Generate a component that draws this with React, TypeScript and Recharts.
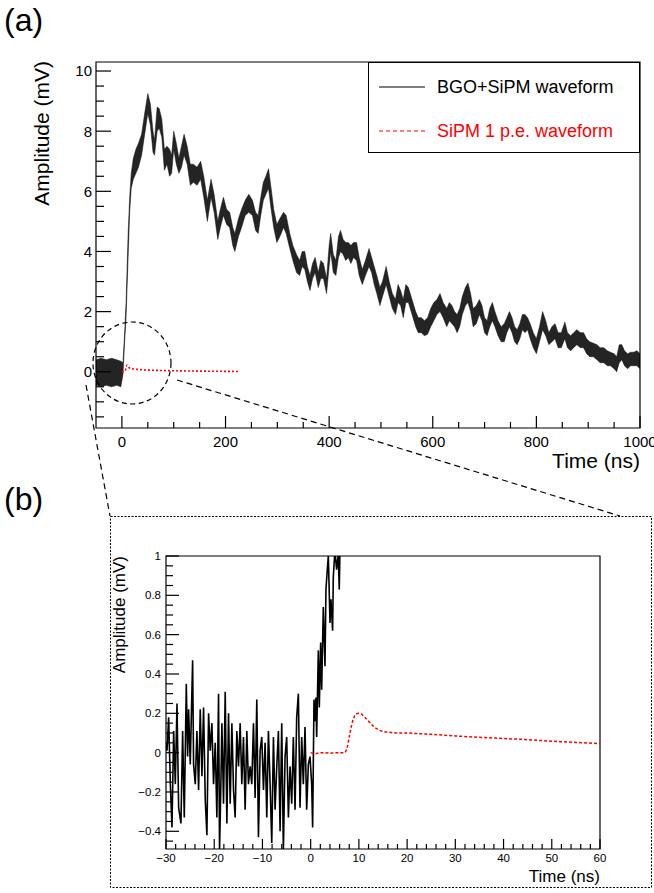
import React from "react";
import { ComposedChart, Line, Area, XAxis, YAxis, ReferenceArea } from "recharts";

const FONT = "'Liberation Sans', Arial, Helvetica, sans-serif";

// (a) BGO+SiPM waveform, dotted band: [time ns, low mV, high mV]
const bgoBandA: [number, number, number][] = [
  [-50, -0.45, 0.4], [-40, -0.5, 0.45], [-30, -0.45, 0.4], [-20, -0.5, 0.45], [-10, -0.45, 0.4],
  [-2, -0.5, 0.35], [2, -0.1, 0.3], [5, 0.9, 1.2], [8, 1.8, 2.3], [12, 3.8, 4.6],
  [15, 5.3, 5.8], [18, 6.1, 6.6], [22, 6.4, 7.1], [27, 6.6, 7.4], [32, 6.8, 7.6],
  [38, 7.2, 7.9], [44, 7.9, 8.6], [50, 8.6, 9.25], [55, 8.2, 8.9], [60, 7.3, 8.0],
  [63, 7.2, 7.7], [68, 8.0, 8.8], [72, 8.1, 8.75], [77, 7.8, 8.4], [82, 6.7, 7.4],
  [87, 6.9, 7.5], [92, 6.5, 7.4], [96, 6.6, 7.2], [100, 7.4, 8.0], [105, 6.9, 7.6],
  [110, 6.6, 7.1], [115, 6.8, 7.5], [120, 7.2, 7.9], [126, 6.9, 7.5], [132, 6.2, 6.9],
  [138, 6.3, 6.9], [145, 6.2, 6.8], [152, 6.4, 7.0], [158, 5.8, 6.5], [165, 5.0, 5.7],
  [172, 5.8, 6.4], [178, 5.3, 5.9], [185, 4.4, 5.0], [190, 4.8, 5.4], [196, 5.2, 5.8],
  [202, 4.9, 5.4], [208, 4.8, 5.3], [214, 4.2, 4.8], [218, 4.0, 4.6], [225, 4.5, 5.1],
  [231, 4.8, 5.4], [238, 5.2, 5.7], [245, 5.3, 5.9], [252, 5.2, 5.7], [258, 4.7, 5.3],
  [263, 4.6, 5.2], [268, 5.2, 5.8], [273, 5.7, 6.3], [278, 5.9, 6.5], [283, 6.1, 6.75],
  [288, 5.4, 6.1], [293, 4.8, 5.4], [299, 4.3, 4.9], [305, 4.5, 5.1], [312, 4.8, 5.3],
  [317, 4.6, 5.2], [324, 4.1, 4.6], [330, 3.7, 4.2], [337, 3.3, 3.9], [343, 3.2, 3.7],
  [348, 3.5, 4.0], [353, 3.4, 4.0], [358, 3.0, 3.5], [363, 2.7, 3.2], [368, 3.1, 3.6],
  [373, 3.3, 3.8], [379, 2.8, 3.3], [384, 3.1, 3.7], [389, 3.1, 3.6], [395, 2.6, 3.1],
  [400, 3.5, 4.2], [403, 4.0, 4.6], [408, 3.3, 3.9], [413, 3.2, 3.7], [418, 3.8, 4.5],
  [422, 4.0, 4.7], [427, 3.9, 4.4], [432, 3.7, 4.3], [437, 3.8, 4.3], [442, 3.6, 4.2],
  [447, 3.8, 4.3], [453, 3.7, 4.3], [458, 3.2, 3.8], [464, 2.9, 3.4], [470, 3.2, 3.7],
  [477, 3.5, 4.1], [482, 3.3, 3.8], [487, 2.9, 3.5], [492, 2.6, 3.2], [498, 2.2, 2.8],
  [503, 2.5, 3.0], [510, 2.9, 3.5], [516, 2.5, 3.0], [522, 2.1, 2.6], [528, 1.9, 2.4],
  [533, 2.3, 2.9], [538, 2.2, 2.7], [543, 1.8, 2.4], [548, 2.3, 2.9], [553, 2.3, 2.8],
  [560, 1.9, 2.4], [567, 1.5, 2.0], [572, 1.3, 1.8], [578, 1.3, 1.8], [584, 1.2, 1.7],
  [590, 1.25, 1.8], [596, 1.5, 2.1], [602, 1.7, 2.3], [608, 1.9, 2.4], [614, 2.0, 2.6],
  [620, 1.8, 2.3], [627, 1.5, 2.1], [632, 1.7, 2.3], [637, 1.6, 2.2], [642, 1.5, 2.0],
  [647, 1.3, 1.9], [652, 1.5, 2.1], [657, 1.9, 2.5], [663, 2.2, 2.8], [668, 2.3, 2.95],
  [673, 2.0, 2.6], [678, 1.5, 2.1], [684, 1.6, 2.2], [690, 1.9, 2.4], [695, 1.7, 2.2],
  [700, 1.3, 1.8], [705, 1.2, 1.7], [710, 1.5, 2.1], [715, 1.7, 2.3], [720, 1.5, 2.0],
  [726, 1.2, 1.7], [732, 1.0, 1.5], [738, 1.0, 1.6], [743, 1.3, 1.8], [748, 1.5, 2.0],
  [753, 1.3, 1.8], [758, 1.0, 1.5], [763, 0.9, 1.4], [768, 1.1, 1.6], [773, 1.4, 1.9],
  [778, 1.3, 1.9], [783, 1.4, 1.8], [788, 1.1, 1.6], [794, 0.8, 1.3], [800, 0.6, 1.1],
  [806, 1.0, 1.5], [812, 1.4, 2.0], [818, 1.2, 1.7], [824, 0.9, 1.3], [830, 1.0, 1.5],
  [836, 1.1, 1.6], [842, 0.8, 1.3], [848, 0.8, 1.3], [855, 1.1, 1.65], [860, 0.8, 1.3],
  [866, 0.7, 1.2], [872, 0.8, 1.3], [878, 0.9, 1.4], [885, 0.8, 1.3], [891, 0.8, 1.3],
  [897, 0.6, 1.1], [903, 0.5, 1.0], [910, 0.5, 0.95], [917, 0.4, 0.9], [923, 0.3, 0.8],
  [930, 0.3, 0.8], [937, 0.2, 0.7], [943, 0.2, 0.65], [950, 0.1, 0.6], [955, 0.0, 0.5],
  [960, 0.3, 0.9], [965, 0.4, 0.9], [970, 0.2, 0.7], [976, 0.1, 0.6], [982, 0.2, 0.65],
  [988, 0.2, 0.65], [994, 0.2, 0.7], [1000, 0.1, 0.6],
];

// (a) SiPM 1 p.e. waveform: [time ns, mV]
const speA: [number, number][] = [
  [0, 0], [3, 0], [6, 0.02], [8, 0.12], [10, 0.22], [12, 0.18], [15, 0.12], [20, 0.1],
  [30, 0.08], [45, 0.06], [60, 0.05], [80, 0.04], [100, 0.035], [130, 0.025], [160, 0.02],
  [190, 0.015], [225, 0.01],
];

// (b) zoomed BGO+SiPM samples: [time ns, mV]
const bgoB: [number, number][] = [
  [-30, 0.05], [-29.79, 0.01], [-29.45, 0.18], [-29.1, -0.16], [-28.76, -0.38], [-28.41, 0.11],
  [-28.07, -0.16], [-27.72, 0.25], [-27.38, -0.28], [-26.9, -0.36], [-26.55, 0.11], [-26.21, -0.33],
  [-25.79, 0.35], [-25.52, -0.02], [-25.31, 0.22], [-24.97, -0.06], [-24.48, 0.47], [-24.28, -0.06],
  [-23.93, -0.16], [-23.59, 0.11], [-23.24, -0.19], [-22.9, 0.22], [-22.55, -0.12], [-22.21, 0.23],
  [-21.86, -0.24], [-21.52, -0.42], [-21.17, 0.2], [-20.83, 0.01], [-20.48, 0.15], [-20.14, -0.16],
  [-19.79, 0.05], [-19.45, -0.33], [-19.1, 0.3], [-18.9, -0.5], [-18.62, -0.16], [-18.41, 0.15],
  [-18.07, -0.26], [-17.72, 0.31], [-17.38, -0.36], [-17.03, 0.2], [-16.69, -0.26], [-16.34, 0.15],
  [-16.0, -0.19], [-15.66, -0.33], [-15.31, 0.11], [-14.97, -0.07], [-14.62, 0.15], [-14.28, -0.16],
  [-13.93, 0.08], [-13.59, -0.29], [-13.24, 0.11], [-12.9, -0.16], [-12.55, -0.07], [-12.21, -0.16],
  [-11.86, 0.15], [-11.52, -0.23], [-11.17, 0.27], [-10.83, -0.43], [-10.48, 0.01], [-10.14, 0.08],
  [-9.79, -0.19], [-9.45, 0.05], [-9.1, -0.33], [-8.76, 0.11], [-8.41, -0.16], [-8.07, -0.46],
  [-7.72, 0.08], [-7.38, -0.29], [-7.03, -0.07], [-6.69, 0.11], [-6.34, -0.4], [-6.0, 0.15],
  [-5.66, -0.5], [-5.31, -0.02], [-4.97, 0.08], [-4.62, -0.33], [-4.28, -0.07], [-3.93, -0.26],
  [-3.59, 0.08], [-3.24, -0.29], [-2.9, 0.18], [-2.55, 0.3], [-2.21, -0.28], [-1.86, 0.08],
  [-1.52, -0.16], [-1.17, 0.13], [-0.83, -0.29], [-0.48, -0.06], [-0.14, -0.02], [0.21, -0.16],
  [0.41, -0.38], [0.69, 0.27], [0.9, 0.16], [1.1, 0.28], [1.24, 0.08], [1.59, 0.52],
  [1.79, 0.23], [2.07, 0.56], [2.28, 0.32], [2.62, 0.74], [2.97, 0.44], [3.17, 0.83],
  [3.45, 0.93], [3.66, 1.0], [4.01, 0.66], [4.21, 0.78], [4.55, 0.62], [4.69, 0.89],
  [5.03, 1.03], [5.38, 0.93], [5.72, 1.01], [5.93, 0.83], [6.2, 1.2], [6.7, 1.6],
];

// (b) SiPM 1 p.e. waveform: [time ns, mV]
const speB: [number, number][] = [
  [0, 0.0], [1, -0.005], [2, 0.0], [3, 0.0], [4, -0.003], [5, 0.0], [6, 0.0], [7, 0.0],
  [7.5, 0.02], [8, 0.08], [8.5, 0.14], [9, 0.18], [9.5, 0.198], [10, 0.2], [10.5, 0.197],
  [11, 0.185], [12, 0.16], [13, 0.135], [14, 0.117], [15, 0.108], [16, 0.104], [17, 0.102],
  [18, 0.1], [20, 0.1], [22, 0.097], [25, 0.093], [30, 0.085], [35, 0.078], [40, 0.072],
  [45, 0.066], [50, 0.058], [55, 0.052], [60, 0.046],
];

const ticksXA = [0, 50, 100, 150, 200, 250, 300, 350, 400, 450, 500, 550, 600, 650, 700, 750, 800, 850, 900, 950, 1000];
const majorXA = [0, 200, 400, 600, 800, 1000];
const ticksYA = [-1.5, -1, -0.5, 0, 0.5, 1, 1.5, 2, 2.5, 3, 3.5, 4, 4.5, 5, 5.5, 6, 6.5, 7, 7.5, 8, 8.5, 9, 9.5, 10];
const majorYA = [0, 2, 4, 6, 8, 10];
const ticksXB = [-30, -28, -26, -24, -22, -20, -18, -16, -14, -12, -10, -8, -6, -4, -2, 0, 2, 4, 6, 8, 10, 12, 14, 16, 18, 20, 22, 24, 26, 28, 30, 32, 34, 36, 38, 40, 42, 44, 46, 48, 50, 52, 54, 56, 58, 60];
const majorXB = [-30, -20, -10, 0, 10, 20, 30, 40, 50, 60];
const ticksYB = [-0.45, -0.4, -0.35, -0.3, -0.25, -0.2, -0.15, -0.1, -0.05, 0, 0.05, 0.1, 0.15, 0.2, 0.25, 0.3, 0.35, 0.4, 0.45, 0.5, 0.55, 0.6, 0.65, 0.7, 0.75, 0.8, 0.85, 0.9, 0.95, 1];
const majorYB = [-0.4, -0.2, 0, 0.2, 0.4, 0.6, 0.8, 1];

const bandData = bgoBandA.map(([t, lo, hi]) => ({ t, band: [lo, hi] }));
const speAData = speA.map(([t, v]) => ({ t, v }));
const bgoBData = bgoB.map(([t, v]) => ({ t, v }));
const speBData = speB.map(([t, v]) => ({ t, v }));

const isMajor = (v: number, majors: number[]) => majors.some((m) => Math.abs(m - v) < 1e-6);
const fmt = (v: number) => (v < 0 ? "\u2212" + String(Math.abs(v)) : String(v));

function xTick(majors: number[], long: number, short: number, fs: number, dy: number) {
  return (p: any) => {
    const { x, y, payload } = p;
    const major = isMajor(payload.value, majors);
    return (
      <g>
        <line x1={x} x2={x} y1={y} y2={y - (major ? long : short)} stroke="#000" strokeWidth={1.2} />
        {major && (
          <text x={x} y={y + dy} textAnchor="middle" fontSize={fs} fontFamily={FONT} fill="#000">
            {fmt(payload.value)}
          </text>
        )}
      </g>
    );
  };
}

function yTick(majors: number[], long: number, short: number, fs: number, dx: number) {
  return (p: any) => {
    const { x, y, payload } = p;
    const major = isMajor(payload.value, majors);
    return (
      <g>
        <line x1={x} x2={x + (major ? long : short)} y1={y} y2={y} stroke="#000" strokeWidth={1.2} />
        {major && (
          <text x={x - dx} y={y + fs * 0.36} textAnchor="end" fontSize={fs} fontFamily={FONT} fill="#000">
            {fmt(payload.value)}
          </text>
        )}
      </g>
    );
  };
}

export default function App() {
  return (
    <div style={{ position: "absolute", left: 0, top: 0, width: 654, height: 893, background: "#fff", fontFamily: FONT }}>
      {/* panel (a) */}
      <div style={{ position: "absolute", left: 0, top: 0 }}>
        <ComposedChart width={654} height={470} margin={{ top: 62, right: 14, bottom: 12, left: 0 }}>
          <XAxis type="number" dataKey="t" domain={[-50, 1000]} allowDataOverflow ticks={ticksXA} interval={0}
            tickSize={0} tickMargin={0} tickLine={false} axisLine={false} height={30} tick={xTick(majorXA, 12, 6, 15, 19)} />
          <YAxis type="number" domain={[-1.87, 10.3]} allowDataOverflow ticks={ticksYA} interval={0}
            tickSize={0} tickMargin={0} tickLine={false} axisLine={false} width={96} tick={yTick(majorYA, 15, 8, 15, 4)} />
          <Area data={bandData} dataKey="band" type="linear" stroke="#111" strokeWidth={0.5} fill="#000"
            fillOpacity={0.86} dot={false} activeDot={false} isAnimationActive={false} />
          <Line data={speAData} dataKey="v" type="monotone" stroke="#ff0000" strokeWidth={1.6}
            strokeDasharray="2 2" dot={false} activeDot={false} isAnimationActive={false} />
          <ReferenceArea x1={-50} x2={1000} y1={-1.87} y2={10.3} fill="none" stroke="#000" strokeWidth={1.2} ifOverflow="visible" />
        </ComposedChart>
      </div>

      {/* panel (b) */}
      <div style={{ position: "absolute", left: 0, top: 520 }}>
        <ComposedChart width={654} height={370} margin={{ top: 36, right: 54, bottom: 16, left: 0 }}>
          <XAxis type="number" dataKey="t" domain={[-30, 60]} allowDataOverflow ticks={ticksXB} interval={0}
            tickSize={0} tickMargin={0} tickLine={false} axisLine={false} height={25} tick={xTick(majorXB, 10, 5, 11.5, 13)} />
          <YAxis type="number" domain={[-0.49, 1]} allowDataOverflow ticks={ticksYB} interval={0}
            tickSize={0} tickMargin={0} tickLine={false} axisLine={false} width={166} tick={yTick(majorYB, 13, 7, 11.5, 5)} />
          <Line data={bgoBData} dataKey="v" type="linear" stroke="#000" strokeWidth={1.6}
            dot={false} activeDot={false} isAnimationActive={false} />
          <Line data={speBData} dataKey="v" type="monotone" stroke="#ff0000" strokeWidth={1.5}
            strokeDasharray="3 2" dot={false} activeDot={false} isAnimationActive={false} />
          <ReferenceArea x1={-30} x2={60} y1={-0.49} y2={1} fill="none" stroke="#000" strokeWidth={1.2} ifOverflow="visible" />
        </ComposedChart>
      </div>

      {/* annotations */}
      <svg width={654} height={893} style={{ position: "absolute", left: 0, top: 0, pointerEvents: "none" }} fontFamily={FONT}>
        <text x={4} y={31} fontSize={32}>(a)</text>
        <text x={4} y={510} fontSize={32}>(b)</text>

        <text transform="translate(49,61) rotate(-90)" textAnchor="end" fontSize={21}>Amplitude (mV)</text>
        <text x={640} y={468} textAnchor="end" fontSize={21}>Time (ns)</text>

        <rect x={368.5} y={62.5} width={271} height={90} fill="#fff" stroke="#000" strokeWidth={1} />
        <line x1={379} x2={425} y1={87} y2={87} stroke="#000" strokeWidth={1} />
        <text x={437} y={93} fontSize={18}>BGO+SiPM waveform</text>
        <line x1={379} x2={425} y1={131} y2={131} stroke="#ff0000" strokeWidth={1} strokeDasharray="4 3" />
        <text x={437} y={137} fontSize={18} fill="#ff0000">SiPM 1 p.e. waveform</text>

        <ellipse cx={132} cy={363} rx={39} ry={41} fill="none" stroke="#000" strokeWidth={1.2} strokeDasharray="5 3.5" />
        <line x1={86} y1={385} x2={110} y2={516} stroke="#000" strokeWidth={1.2} strokeDasharray="6 4" />
        <line x1={177} y1={380} x2={620} y2={516} stroke="#000" strokeWidth={1.2} strokeDasharray="6 4" />
        <rect x={110.5} y={516.5} width={541} height={371} fill="none" stroke="#000" strokeWidth={1} strokeDasharray="2 1.5" />

        <text transform="translate(125,556) rotate(-90)" textAnchor="end" fontSize={17}>Amplitude (mV)</text>
        <text x={600} y={882} textAnchor="end" fontSize={17}>Time (ns)</text>
      </svg>
    </div>
  );
}
